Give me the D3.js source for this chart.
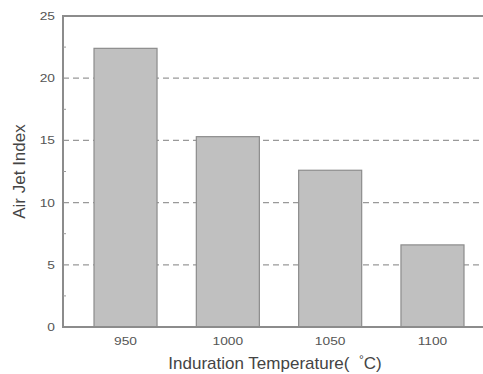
<!DOCTYPE html>
<html>
<head>
<meta charset="utf-8">
<script src="https://cdn.jsdelivr.net/npm/d3@7"></script>
<style>
  body { margin: 0; background: #fff; }
  text { font-family: Arial, "Liberation Sans", sans-serif; }
</style>
</head>
<body>
<div id="chart"></div>
<script>
const temperatures = ['950', '1000', '1050', '1100']
const airJetIndex = [22.4, 15.3, 12.6, 6.6]
const yTicks = [0, 5, 10, 15, 20, 25]
const yMinorTicks = [2.5, 7.5, 12.5, 17.5, 22.5]

const W = 483, H = 374
const MARGIN = { TOP: 16, LEFT: 63, BOTTOM: 47, RIGHT: -12 }
const WIDTH = W - MARGIN.LEFT - MARGIN.RIGHT
const HEIGHT = H - MARGIN.TOP - MARGIN.BOTTOM

const svg = d3.select('#chart')
    .append('svg')
        .attr('width', W)
        .attr('height', H)

const g = svg.append('g')
    .attr('transform', `translate(${ MARGIN.LEFT }, ${ MARGIN.TOP })`)

const x = d3.scaleBand()
    .domain(temperatures)
    .range([0, WIDTH])
    .paddingInner(0.384)
    .paddingOuter(0.303)

const y = d3.scaleLinear()
    .domain([0, 25])
    .range([HEIGHT, 0])

// widen the tick text a bit, the original font is broad
function stretch(sel, k) {
    sel.each(function () {
        const len = this.getComputedTextLength()
        d3.select(this)
            .attr('textLength', len * k)
            .attr('lengthAdjust', 'spacingAndGlyphs')
    })
}

// dashed grid lines
g.selectAll('line.grid')
    .data(yTicks.filter(t => t > 0 && t < 25))
    .enter().append('line')
        .attr('class', 'grid')
        .attr('x1', 0)
        .attr('x2', WIDTH)
        .attr('y1', d => y(d))
        .attr('y2', d => y(d))
        .attr('stroke', '#999')
        .attr('stroke-width', 1.2)
        .attr('stroke-dasharray', '6,4')

// bars
g.selectAll('rect.bar')
    .data(airJetIndex)
    .enter().append('rect')
        .attr('class', 'bar')
        .attr('x', (d, i) => x(temperatures[i]))
        .attr('y', d => y(d))
        .attr('width', x.bandwidth())
        .attr('height', d => HEIGHT - y(d))
        .attr('fill', '#c0c0c0')
        .attr('stroke', '#8c8c8c')
        .attr('stroke-width', 1.2)

// frame
g.append('rect')
    .attr('x', 0)
    .attr('y', 0)
    .attr('width', WIDTH)
    .attr('height', HEIGHT)
    .attr('fill', 'none')
    .attr('stroke', '#8c8c8c')
    .attr('stroke-width', 2)

// y axis, labels only
const yAxis = g.append('g')
    .call(d3.axisLeft(y).tickValues(yTicks).tickSize(0).tickPadding(8))
yAxis.select('.domain').remove()
yAxis.selectAll('text')
    .attr('fill', '#555')
    .attr('font-size', 11)
    .call(stretch, 1.25)

// short inward minor ticks
g.selectAll('line.minor')
    .data(yMinorTicks)
    .enter().append('line')
        .attr('class', 'minor')
        .attr('x1', 0)
        .attr('x2', 3)
        .attr('y1', d => y(d))
        .attr('y2', d => y(d))
        .attr('stroke', '#999')
        .attr('stroke-width', 1)

// x axis labels
const xAxis = g.append('g')
    .attr('transform', `translate(0, ${ HEIGHT })`)
    .call(d3.axisBottom(x).tickSize(0).tickPadding(10))
xAxis.select('.domain').remove()
xAxis.selectAll('text')
    .attr('fill', '#555')
    .attr('font-size', 11)
    .call(stretch, 1.25)

// axis titles
const xTitle = svg.append('text')
    .attr('x', 275)
    .attr('y', 369)
    .attr('text-anchor', 'middle')
    .attr('font-size', 17)
    .attr('fill', '#444')
xTitle.append('tspan').text('Induration Temperature(\u00a0\u00a0')
xTitle.append('tspan').attr('dy', -5).attr('font-size', 12).text('°')
xTitle.append('tspan').attr('dy', 5).text('C)')

svg.append('text')
    .attr('transform', `translate(25, ${ MARGIN.TOP + HEIGHT / 2 }) rotate(-90)`)
    .attr('text-anchor', 'middle')
    .attr('font-size', 17)
    .attr('fill', '#444')
    .text('Air Jet Index')
</script>
</body>
</html>
